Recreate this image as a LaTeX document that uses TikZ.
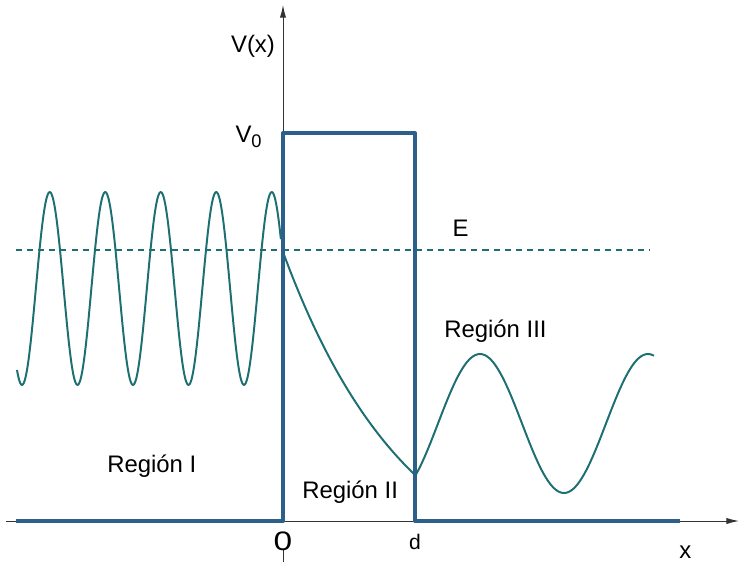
\documentclass[tikz,border=0pt]{standalone}
\usepackage{fontspec}
\setmainfont{Liberation Sans}
\usetikzlibrary{arrows.meta}
\definecolor{wallblue}{HTML}{2D5F8B}
\definecolor{psiteal}{HTML}{1D6F72}
\definecolor{axisgray}{HTML}{333333}

\begin{document}
\begin{tikzpicture}[line join=round,
  axis/.style={axisgray,line width=0.7pt,-{Latex[length=9pt,width=4.5pt]}},
  wall/.style={wallblue,line width=2.9pt},
  psi/.style={psiteal,line width=1.4pt},
  lbl/.style={inner sep=0pt,font=\fontsize{17}{20}\selectfont}]
  \useasboundingbox (-7.075,-1.025) rectangle (11.425,13.025);
  \coordinate (O) at (0,0);
  \coordinate (D) at (3.3,0);
  \coordinate (L) at (-6.675,0);
  \coordinate (R) at (9.925,0);
  \coordinate (O1) at (0,9.7);
  \coordinate (D1) at (3.3,9.7);
  \coordinate (XA) at (-6.925,0);
  \coordinate (XB) at (11.4,0);
  \coordinate (YA) at (0,-1.025);
  \coordinate (YB) at (0,12.9);
  \coordinate (E0) at (-6.675,6.775);
  \coordinate (E1) at (9.175,6.775);
  \draw[axis] (XA)--(XB);
  \draw[axis] (YA)--(YB);
  \node[lbl,anchor=base,fill=white,text height=20pt,text depth=0pt,font=\fontsize{19}{22}\selectfont] (n0) at (0,-0.725) {\scalebox{1.25}[1]{0}};
  \draw[psi,line width=1.6pt,dash pattern=on 4.3pt off 3.6pt] (E0)--(E1);
  \draw[psi] plot[domain=-6.65:-0.05,samples=240,smooth] (\x,{5.8125-2.4125*cos(360*(\x+6.525)/1.3875)});
  \draw[psi] plot[domain=0:3.3,samples=60,smooth] (\x,{-1.9+8.625*exp(-0.315*\x)});
  \draw[psi] plot[domain=3.3:9.275,samples=120,smooth] (\x,{2.4375+1.7375*cos(360*(\x-4.925)/4.2)});
  \draw[wall] (L)--(O)--(O1)--(D1)--(D)--(R);
  \node[lbl,anchor=base] (vx) at (-0.75,11.7) {V(x)};
  \node[lbl,anchor=base] (v0) at (-0.86,9.45) {V\raisebox{-3.5pt}{\fontsize{13}{15}\selectfont 0}};
  \node[lbl,anchor=base] (en) at (4.44,7.1) {E};
  \node[lbl,anchor=base west] (r1) at (-4.4,1.225) {Región I};
  \node[lbl,anchor=base west] (r2) at (0.475,0.575) {Región II};
  \node[lbl,anchor=base west] (r3) at (4.025,4.6) {Región III};
  \node[lbl,anchor=base,font=\fontsize{15}{18}\selectfont] (nd) at (3.3,-0.7) {d};
  \node[lbl,anchor=base] (nx) at (10.06,-0.925) {x};
\end{tikzpicture}
\end{document}
